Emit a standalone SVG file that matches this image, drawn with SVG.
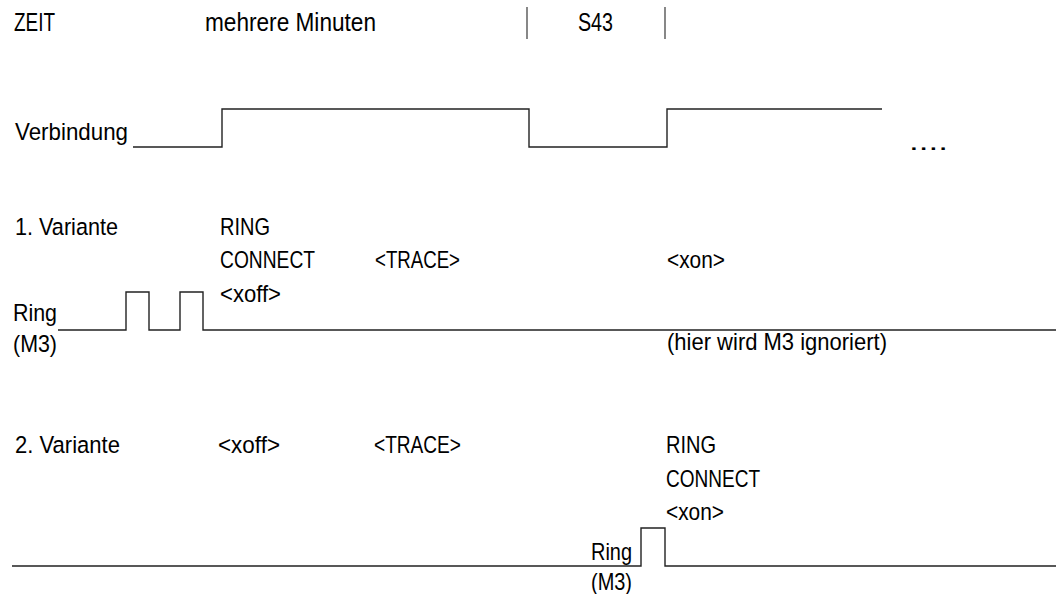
<svg xmlns="http://www.w3.org/2000/svg" width="1060" height="594" viewBox="0 0 1060 594">
<style>
text{font-family:"Liberation Sans",Arial,sans-serif;font-size:24.5px;fill:#000}
.top{font-size:26px}
.sig{fill:none;stroke:#222;stroke-width:1.4}
.tick{fill:none;stroke:#555;stroke-width:1.4}
</style>
<rect width="1060" height="594" fill="#fff"/>
<g id="header">
<text class="top" x="14" y="30.5" textLength="41" lengthAdjust="spacingAndGlyphs">ZEIT</text>
<text class="top" x="205" y="30.5" textLength="171" lengthAdjust="spacingAndGlyphs">mehrere Minuten</text>
<text class="top" x="578" y="30.5" textLength="35" lengthAdjust="spacingAndGlyphs">S43</text>
<line class="tick" x1="527" y1="7" x2="527" y2="39"/>
<line class="tick" x1="665" y1="7" x2="665" y2="39"/>
</g>
<g id="verbindung">
<text x="15" y="140" textLength="113" lengthAdjust="spacingAndGlyphs">Verbindung</text>
<text x="909" y="150" textLength="39" lengthAdjust="spacingAndGlyphs">....</text>
</g>
<g id="variante1">
<text x="15" y="235" textLength="103" lengthAdjust="spacingAndGlyphs">1. Variante</text>
<text x="220" y="235" textLength="50" lengthAdjust="spacingAndGlyphs">RING</text>
<text x="220" y="268" textLength="95" lengthAdjust="spacingAndGlyphs">CONNECT</text>
<text x="220" y="302" textLength="61" lengthAdjust="spacingAndGlyphs">&lt;xoff&gt;</text>
<text x="375" y="268" textLength="85" lengthAdjust="spacingAndGlyphs">&lt;TRACE&gt;</text>
<text x="667" y="268" textLength="58" lengthAdjust="spacingAndGlyphs">&lt;xon&gt;</text>
<text x="13" y="321" textLength="44" lengthAdjust="spacingAndGlyphs">Ring</text>
<text x="13" y="352" textLength="44" lengthAdjust="spacingAndGlyphs">(M3)</text>
<text x="667" y="350" textLength="220" lengthAdjust="spacingAndGlyphs">(hier wird M3 ignoriert)</text>
</g>
<g id="variante2">
<text x="15" y="453" textLength="105" lengthAdjust="spacingAndGlyphs">2. Variante</text>
<text x="218" y="453" textLength="62" lengthAdjust="spacingAndGlyphs">&lt;xoff&gt;</text>
<text x="374" y="453" textLength="87" lengthAdjust="spacingAndGlyphs">&lt;TRACE&gt;</text>
<text x="666" y="453" textLength="50" lengthAdjust="spacingAndGlyphs">RING</text>
<text x="666" y="487" textLength="94" lengthAdjust="spacingAndGlyphs">CONNECT</text>
<text x="666" y="520" textLength="58" lengthAdjust="spacingAndGlyphs">&lt;xon&gt;</text>
<text x="591" y="560" textLength="41" lengthAdjust="spacingAndGlyphs">Ring</text>
<text x="591" y="590" textLength="41" lengthAdjust="spacingAndGlyphs">(M3)</text>
</g>
<g id="connectors">
<polyline class="sig" points="133,147 222,147 222,109 529,109 529,147 667,147 667,109 882,109"/>
<polyline class="sig" points="58,330 126,330 126,292 149,292 149,330 180,330 180,292 203,292 203,330 1056,330"/>
<polyline class="sig" points="12,566 641,566 641,528 665,528 665,566 1056,566"/>
</g>
</svg>
